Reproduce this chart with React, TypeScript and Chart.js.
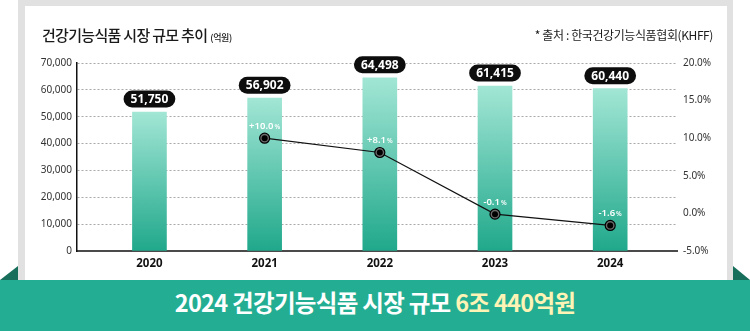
import React, { useEffect, useRef } from "react";
import { Chart, registerables } from "chart.js";

Chart.register(...registerables);

const years = ["2020", "2021", "2022", "2023", "2024"];
const marketSize = [51750, 56902, 64498, 61415, 60440];
const growthRate: (number | null)[] = [null, 10.0, 8.1, -0.1, -1.6];
const leftTicks = [0, 10000, 20000, 30000, 40000, 50000, 60000, 70000];
const rightTicks = [-5, 0, 5, 10, 15, 20];

const CJK = '"Noto Sans CJK KR", "Noto Sans", sans-serif';
const LAT = '"Noto Sans", "Noto Sans CJK KR", sans-serif';

const labelPlugin = {
  id: "labels",
  afterDatasetsDraw(chart: any) {
    const ctx = chart.ctx as CanvasRenderingContext2D;
    const lineMeta = chart.getDatasetMeta(0);
    lineMeta.data.forEach((pt: any, i: number) => {
      const v = growthRate[i];
      if (v === null || pt.skip) return;
      ctx.save();
      ctx.beginPath();
      ctx.arc(pt.x, pt.y, 3, 0, Math.PI * 2);
      ctx.fillStyle = "#000";
      ctx.fill();
      const main = (v > 0 ? "+" : "") + v.toFixed(1);
      ctx.font = `600 9.5px ${LAT}`;
      const w1 = ctx.measureText(main).width;
      ctx.font = `600 6.5px ${LAT}`;
      const w2 = ctx.measureText("%").width;
      const start = pt.x - (w1 + w2 + 1) / 2;
      ctx.fillStyle = "#fff";
      ctx.textBaseline = "middle";
      ctx.textAlign = "left";
      ctx.font = `600 9.5px ${LAT}`;
      ctx.fillText(main, start, pt.y - 12);
      ctx.font = `600 6.5px ${LAT}`;
      ctx.fillText("%", start + w1 + 1, pt.y - 11.5);
      ctx.restore();
    });
    const barMeta = chart.getDatasetMeta(1);
    barMeta.data.forEach((bar: any, i: number) => {
      const txt = marketSize[i].toLocaleString("en-US");
      ctx.save();
      ctx.font = `700 12px ${LAT}`;
      const tw = ctx.measureText(txt).width;
      const w = tw + 14;
      const h = 17;
      const cx = bar.x;
      const cy = bar.y - 13;
      ctx.beginPath();
      ctx.roundRect(cx - w / 2, cy - h / 2, w, h, h / 2);
      ctx.fillStyle = "#0d0d0d";
      ctx.fill();
      ctx.fillStyle = "#fff";
      ctx.textAlign = "center";
      ctx.textBaseline = "middle";
      ctx.fillText(txt, cx, cy + 0.5);
      ctx.restore();
    });
  },
};

export default function App() {
  const ref = useRef<HTMLCanvasElement | null>(null);

  useEffect(() => {
    document.body.style.margin = "0";
    const canvas = ref.current!;
    const chart = new Chart(canvas, {
      type: "bar",
      data: {
        labels: years,
        datasets: [
          {
            type: "line",
            data: growthRate,
            yAxisID: "y1",
            borderColor: "#111",
            borderWidth: 1.2,
            pointRadius: 5,
            pointBackgroundColor: "#6a6a6a",
            pointBorderColor: "#000",
            pointBorderWidth: 1.2,
            order: 0,
          } as any,
          {
            type: "bar",
            data: marketSize,
            yAxisID: "y",
            barThickness: 34,
            order: 1,
            backgroundColor: (c: any) => {
              const ch = c.chart;
              const area = ch.chartArea;
              if (!area || c.parsed == null) return "#5cc9b0";
              const top = ch.scales.y.getPixelForValue(c.parsed.y);
              const g = ch.ctx.createLinearGradient(0, top, 0, area.bottom);
              g.addColorStop(0, "#a2e6d5");
              g.addColorStop(1, "#20a88b");
              return g;
            },
          } as any,
        ],
      },
      options: {
        animation: false,
        responsive: false,
        devicePixelRatio: 1,
        layout: { padding: { top: 63, left: 0, right: 0, bottom: 0 } },
        plugins: { legend: { display: false }, tooltip: { enabled: false } },
        scales: {
          x: {
            type: "linear",
            offset: false,
            min: 2019.371,
            max: 2024.58,
            afterBuildTicks: (axis: any) => {
              axis.ticks = years.map((y) => ({ value: Number(y) }));
            },
            afterFit: (s: any) => {
              s.height = 80;
            },
            grid: { display: false, drawTicks: false },
            border: { display: true, color: "#4a4a4a", width: 2 },
            ticks: {
              padding: 6,
              color: "#111",
              font: { family: LAT, size: 11.5, weight: "bold" },
              callback: (v: any) => String(v),
            },
          },
          y: {
            position: "left",
            min: 0,
            max: 70000,
            afterBuildTicks: (axis: any) => {
              axis.ticks = leftTicks.map((v) => ({ value: v }));
            },
            afterFit: (s: any) => {
              s.width = 77;
            },
            grid: {
              drawTicks: false,
              color: (c: any) => (c.tick && c.tick.value === 0 ? "rgba(0,0,0,0)" : "#a9a9a9"),
              lineWidth: 1,
            },
            border: { display: true, color: "#111", width: 1.5, dash: [2, 2] },
            ticks: {
              padding: 5,
              color: "#333",
              font: { family: LAT, size: 10 },
              callback: (v: any) => Number(v).toLocaleString("en-US"),
            },
          },
          y1: {
            position: "right",
            min: -5,
            max: 20,
            afterBuildTicks: (axis: any) => {
              axis.ticks = rightTicks.map((v) => ({ value: v }));
            },
            afterFit: (s: any) => {
              s.width = 73;
            },
            grid: { display: false, drawTicks: false },
            border: { display: false },
            ticks: {
              padding: 6,
              color: "#333",
              font: { family: LAT, size: 10 },
              callback: (v: any) => Number(v).toFixed(1) + "%",
            },
          },
        },
      } as any,
      plugins: [labelPlugin],
    });
    return () => chart.destroy();
  }, []);

  return (
    <div style={{ position: "relative", width: 750, height: 331, overflow: "hidden", background: "#fff" }}>
      <div style={{ position: "absolute", left: 18, top: 0, width: 715, height: 280, background: "#e1e1e1" }} />
      <div style={{ position: "absolute", left: 25, top: 6, width: 702, height: 274, background: "#fff" }} />
      <canvas ref={ref} width={750} height={331} style={{ position: "absolute", left: 0, top: 0, width: 750, height: 331 }} />
      <div
        style={{
          position: "absolute",
          left: 42,
          top: 24,
          fontFamily: CJK,
          fontSize: 15,
          fontWeight: 500,
          letterSpacing: -0.7,
          color: "#1a1a1a",
          whiteSpace: "nowrap",
          lineHeight: "22px",
        }}
      >
        건강기능식품 시장 규모 추이
        <span style={{ fontSize: 9, letterSpacing: -0.3, marginLeft: 3 }}>(억원)</span>
      </div>
      <div
        style={{
          position: "absolute",
          right: 750 - 713,
          top: 25,
          fontFamily: CJK,
          fontSize: 12,
          fontWeight: 400,
          letterSpacing: -0.4,
          color: "#1a1a1a",
          whiteSpace: "nowrap",
          lineHeight: "20px",
        }}
      >
        * 출처 : 한국건강기능식품협회(KHFF)
      </div>
      <div
        style={{
          position: "absolute",
          left: 0,
          top: 266,
          width: 18,
          height: 14,
          background: "#166e5b",
          clipPath: "polygon(0 100%, 100% 0, 100% 100%)",
        }}
      />
      <div
        style={{
          position: "absolute",
          left: 733,
          top: 266,
          width: 17,
          height: 14,
          background: "#166e5b",
          clipPath: "polygon(0 0, 100% 100%, 0 100%)",
        }}
      />
      <div
        style={{
          position: "absolute",
          left: 0,
          top: 280,
          width: 750,
          height: 51,
          background: "#23ae93",
          textAlign: "center",
          fontFamily: CJK,
          fontWeight: 700,
          fontSize: 23.5,
          letterSpacing: -0.7,
          lineHeight: "45px",
          color: "#fff",
          whiteSpace: "nowrap",
        }}
      >
        2024 건강기능식품 시장 규모 <span style={{ color: "#fdf3b5" }}>6조 440억원</span>
      </div>
    </div>
  );
}
